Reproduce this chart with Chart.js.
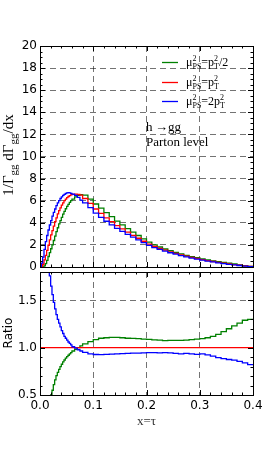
<!DOCTYPE html>
<html>
<head>
<meta charset="utf-8">
<script src="https://cdn.jsdelivr.net/npm/chart.js@4.4.1/dist/chart.umd.min.js"></script>
<style>
  html, body { margin: 0; padding: 0; background: #fff; }
  #arriba { position: absolute; left: 0; top: 0; width: 266px; height: 272px; }
  #abajo { position: absolute; left: 0; top: 270px; width: 266px; height: 195px; }
</style>
</head>
<body>
<div id="arriba"><canvas id="graficoDist"></canvas></div>
<div id="abajo"><canvas id="graficoRatio"></canvas></div>
<script>
// Bordes izquierdos de los bins (el último bin termina en 0.4)
const bordes = [
  0, 0.0025, 0.005, 0.0075, 0.01, 0.0125, 0.015, 0.0175,
  0.02, 0.0225, 0.025, 0.0275, 0.03, 0.0325, 0.035, 0.0375,
  0.04, 0.0425, 0.045, 0.0475, 0.05, 0.0525, 0.055, 0.0575,
  0.06, 0.065, 0.07, 0.075,
  0.08, 0.09, 0.1, 0.11, 0.12, 0.13, 0.14, 0.15,
  0.16, 0.17, 0.18, 0.19, 0.2, 0.21, 0.22, 0.23,
  0.24, 0.25, 0.26, 0.27, 0.28, 0.29, 0.3, 0.31,
  0.32, 0.33, 0.34, 0.35, 0.36, 0.37, 0.38, 0.39,
];
const xFin = 0.4;

// 1/Gamma dGamma/dx para cada escala
const distMitad = [
  0, 0, 0.02, 0.1, 0.3, 0.6, 0.95, 1.3,
  1.65, 2.0, 2.4, 2.8, 3.2, 3.55, 3.9, 4.2,
  4.5, 4.78, 5.03, 5.27, 5.48, 5.67, 5.85, 6.0,
  6.15, 6.35, 6.48, 6.55,
  6.5, 6.15, 5.7, 5.33, 4.92, 4.55, 4.15, 3.81,
  3.47, 3.15, 2.85, 2.54, 2.25, 2.01, 1.81, 1.63,
  1.48, 1.32, 1.19, 1.06, 0.94, 0.84, 0.73, 0.64,
  0.56, 0.48, 0.41, 0.34, 0.27, 0.2, 0.13, 0.065,
];
const distUno = [
  0, 0.05, 0.25, 0.65, 1.05, 1.5, 1.97, 2.45,
  2.9, 3.3, 3.7, 4.1, 4.45, 4.8, 5.1, 5.35,
  5.6, 5.8, 6.0, 6.15, 6.28, 6.38, 6.46, 6.52,
  6.57, 6.6, 6.58, 6.5,
  6.2, 5.75, 5.25, 4.85, 4.45, 4.1, 3.75, 3.45,
  3.15, 2.87, 2.6, 2.33, 2.07, 1.86, 1.68, 1.52,
  1.37, 1.23, 1.1, 0.98, 0.87, 0.77, 0.67, 0.58,
  0.5, 0.42, 0.35, 0.28, 0.22, 0.16, 0.1, 0.05,
];
const distDoble = [
  0.05, 0.35, 0.9, 1.6, 2.3, 2.85, 3.35, 3.8,
  4.2, 4.6, 4.95, 5.25, 5.55, 5.8, 6.0, 6.2,
  6.35, 6.48, 6.58, 6.65, 6.7, 6.72, 6.71, 6.67,
  6.6, 6.48, 6.3, 6.05,
  5.8, 5.38, 4.88, 4.5, 4.14, 3.82, 3.5, 3.23,
  2.96, 2.7, 2.45, 2.2, 1.96, 1.76, 1.59, 1.44,
  1.29, 1.16, 1.03, 0.92, 0.81, 0.72, 0.63, 0.54,
  0.455, 0.375, 0.31, 0.245, 0.19, 0.137, 0.084, 0.041,
];

// Cocientes respecto a mu^2 = pT^2
const ratioMitad = [
  0, 0.05, 0.1, 0.17, 0.25, 0.33, 0.4, 0.45,
  0.5, 0.55, 0.61, 0.66, 0.705, 0.74, 0.77, 0.8,
  0.825, 0.85, 0.87, 0.89, 0.905, 0.92, 0.935, 0.948,
  0.965, 0.982, 1.0, 1.02,
  1.04, 1.065, 1.085, 1.1, 1.105, 1.11, 1.108, 1.105,
  1.1, 1.098, 1.095, 1.09, 1.087, 1.083, 1.08, 1.075,
  1.078, 1.077, 1.078, 1.08, 1.085, 1.09, 1.095, 1.105,
  1.12, 1.14, 1.17, 1.2, 1.23, 1.26, 1.29, 1.3,
];
const ratioUno = [
  1, 1, 1, 1, 1, 1, 1, 1, 1, 1, 1, 1, 1, 1, 1, 1, 1, 1, 1, 1,
  1, 1, 1, 1, 1, 1, 1, 1, 1, 1, 1, 1, 1, 1, 1, 1, 1, 1, 1, 1,
  1, 1, 1, 1, 1, 1, 1, 1, 1, 1, 1, 1, 1, 1, 1, 1, 1, 1, 1, 1,
];
const ratioDoble = [
  8, 5, 3.6, 2.9, 2.4, 2.1, 1.9, 1.76,
  1.65, 1.56, 1.48, 1.41, 1.35, 1.3, 1.26, 1.22,
  1.18, 1.15, 1.12, 1.1, 1.08, 1.06, 1.045, 1.03,
  1.01, 0.995, 0.978, 0.965,
  0.95, 0.935, 0.928, 0.927, 0.93, 0.932, 0.935, 0.937,
  0.94, 0.942, 0.943, 0.945, 0.947, 0.948, 0.945, 0.947,
  0.945, 0.94, 0.935, 0.94, 0.935, 0.93, 0.935, 0.925,
  0.91, 0.895, 0.885, 0.875, 0.868, 0.855, 0.84, 0.82,
];

const xTicks = [0, 0.1, 0.2, 0.3, 0.4];

const VERDE = "#008000";
const ROJO = "#ff0000";
const AZUL = "#0000ff";
const SANS = "'DejaVu Sans', sans-serif";
const SERIF = "'Liberation Serif', serif";

// Convertir un array de valores en puntos de histograma escalonado
function histograma(valores) {
  const puntos = bordes.map((x, i) => ({ x: x, y: valores[i] }));
  puntos.push({ x: xFin, y: valores[valores.length - 1] });
  return puntos;
}

function serie(valores, color, orden) {
  return {
    data: histograma(valores),
    borderColor: color,
    borderWidth: 1.3,
    pointRadius: 0,
    stepped: "before",
    fill: false,
    order: orden,
  };
}

// Quitar el relleno automático que Chart.js reserva para las etiquetas
function sinRelleno(s) {
  s.paddingTop = 0;
  s.paddingBottom = 0;
  s.paddingLeft = 0;
  s.paddingRight = 0;
}

// Texto tipo "mathtext": partes normales o {sup, sub}
function textoMate(ctx, partes, x, y, tam, soloMedir) {
  let cx = x;
  partes.forEach((p) => {
    if (typeof p === "string") {
      ctx.font = tam + "px " + SERIF;
      if (!soloMedir) ctx.fillText(p, cx, y);
      cx += ctx.measureText(p).width;
    } else {
      const t2 = Math.round(tam * 0.7);
      ctx.font = t2 + "px " + SERIF;
      let w = 0;
      if (p.sup) {
        if (!soloMedir) ctx.fillText(p.sup, cx, y - tam * 0.42);
        w = Math.max(w, ctx.measureText(p.sup).width);
      }
      if (p.sub) {
        if (!soloMedir) ctx.fillText(p.sub, cx, y + tam * 0.25);
        w = Math.max(w, ctx.measureText(p.sub).width);
      }
      cx += w;
    }
  });
  return cx - x;
}

// Marco negro y marcas hacia dentro (mayores y menores)
function marcoYMarcas(chart, pasoX, pasoY) {
  const { ctx, chartArea: a, scales } = chart;
  const sx = scales.x;
  const sy = scales.y;
  ctx.save();
  ctx.strokeStyle = "#000";
  ctx.lineWidth = 1;
  ctx.setLineDash([]);
  ctx.beginPath();
  for (let v = sx.min, k = 0; v <= sx.max + 1e-9; v = sx.min + (++k) * pasoX[1]) {
    const px = Math.round(sx.getPixelForValue(v)) + 0.5;
    const mayor = k % Math.round(pasoX[0] / pasoX[1]) === 0;
    const l = mayor ? 5 : 2.5;
    ctx.moveTo(px, a.bottom); ctx.lineTo(px, a.bottom - l);
    ctx.moveTo(px, a.top); ctx.lineTo(px, a.top + l);
  }
  const kMin = Math.ceil(sy.min / pasoY[1] - 1e-9);
  for (let k = kMin; k * pasoY[1] <= sy.max + 1e-9; k++) {
    const v = k * pasoY[1];
    const py = Math.round(sy.getPixelForValue(v)) + 0.5;
    const mayor = Math.abs(v / pasoY[0] - Math.round(v / pasoY[0])) < 1e-6;
    const l = mayor ? 5 : 2.5;
    ctx.moveTo(a.left, py); ctx.lineTo(a.left + l, py);
    ctx.moveTo(a.right, py); ctx.lineTo(a.right - l, py);
  }
  ctx.stroke();
  ctx.strokeRect(Math.round(a.left) + 0.5, Math.round(a.top) + 0.5,
    Math.round(a.right - a.left), Math.round(a.bottom - a.top));
  ctx.restore();
}

function colorRejilla(ctx, extremos) {
  return extremos.includes(ctx.tick.value) ? "rgba(0,0,0,0)" : "rgba(0,0,0,0.55)";
}

// Panel superior: distribuciones
const ctxDist = document.getElementById("graficoDist").getContext("2d");
new Chart(ctxDist, {
  type: "line",
  data: {
    datasets: [
      serie(distDoble, AZUL, 0),
      serie(distUno, ROJO, 1),
      serie(distMitad, VERDE, 2),
    ],
  },
  options: {
    responsive: true,
    maintainAspectRatio: false,
    animation: false,
    layout: { padding: { left: 0, right: 13, top: 46, bottom: 5 } },
    plugins: { legend: { display: false }, tooltip: { enabled: false } },
    scales: {
      x: {
        type: "linear",
        min: 0,
        max: 0.4,
        afterBuildTicks: (s) => { s.ticks = xTicks.map((v) => ({ value: v })); },
        afterFit: (s) => { s.height = 0; sinRelleno(s); },
        ticks: { display: false },
        grid: { drawTicks: false, color: (c) => colorRejilla(c, [0, 0.4]) },
        border: { display: false, dash: [6, 4] },
      },
      y: {
        min: 0,
        max: 20,
        afterFit: (s) => { s.width = 40; sinRelleno(s); },
        ticks: { stepSize: 2, color: "#000", padding: 3, font: { family: SANS, size: 12 } },
        grid: { drawTicks: false, color: (c) => colorRejilla(c, [0, 20]) },
        border: { display: false, dash: [6, 4] },
      },
    },
  },
  plugins: [{
    id: "decoradoDist",
    afterDraw(chart) {
      const ctx = chart.ctx;
      marcoYMarcas(chart, [0.1, 0.02], [2, 0.5]);
      ctx.save();
      ctx.fillStyle = "#000";
      ctx.textBaseline = "alphabetic";

      // Leyenda
      const leyenda = [
        [VERDE, 62, ["\u03bc", { sup: "2", sub: "PS" }, "=p", { sup: "2", sub: "T" }, "/2"]],
        [ROJO, 82, ["\u03bc", { sup: "2", sub: "PS" }, "=p", { sup: "2", sub: "T" }]],
        [AZUL, 101, ["\u03bc", { sup: "2", sub: "PS" }, "=2p", { sup: "2", sub: "T" }]],
      ];
      leyenda.forEach(([color, y, partes]) => {
        ctx.strokeStyle = color;
        ctx.lineWidth = 1.3;
        ctx.beginPath();
        ctx.moveTo(162, y + 0.5);
        ctx.lineTo(178, y + 0.5);
        ctx.stroke();
        textoMate(ctx, partes, 186, y + 4, 12);
      });

      // Textos del proceso
      ctx.font = "13px " + SERIF;
      ctx.fillText("h\u2009\u2192gg", 146, 131);
      ctx.fillText("Parton level", 146, 146);

      // Título del eje Y
      const etiqueta = ["1/\u0393", { sub: "gg" }, " d\u0393", { sub: "gg" }, "/dx"];
      ctx.translate(13, 155);
      ctx.rotate(-Math.PI / 2);
      const w = textoMate(ctx, etiqueta, 0, 0, 15, true);
      textoMate(ctx, etiqueta, -w / 2, 0, 15);
      ctx.restore();
    },
  }],
});

// Panel inferior: cocientes
const ctxRatio = document.getElementById("graficoRatio").getContext("2d");
new Chart(ctxRatio, {
  type: "line",
  data: {
    datasets: [
      serie(ratioDoble, AZUL, 0),
      serie(ratioUno, ROJO, 1),
      serie(ratioMitad, VERDE, 2),
    ],
  },
  options: {
    responsive: true,
    maintainAspectRatio: false,
    animation: false,
    layout: { padding: { left: 0, right: 13, top: 2, bottom: 0 } },
    plugins: { legend: { display: false }, tooltip: { enabled: false } },
    scales: {
      x: {
        type: "linear",
        min: 0,
        max: 0.4,
        afterBuildTicks: (s) => { s.ticks = xTicks.map((v) => ({ value: v })); },
        afterFit: (s) => { s.height = 70; sinRelleno(s); },
        ticks: {
          color: "#000",
          padding: 4,
          maxRotation: 0,
          font: { family: SANS, size: 12 },
          callback: (v) => Number(v).toFixed(1),
        },
        grid: { drawTicks: false, color: (c) => colorRejilla(c, [0, 0.4]) },
        border: { display: false, dash: [6, 4] },
      },
      y: {
        min: 0.5,
        max: 1.8,
        afterFit: (s) => { s.width = 40; sinRelleno(s); },
        ticks: {
          stepSize: 0.5,
          includeBounds: false,
          color: "#000",
          padding: 3,
          font: { family: SANS, size: 12 },
          callback: (v) => Number(v).toFixed(1),
        },
        grid: { drawTicks: false, color: (c) => colorRejilla(c, [0.5, 1.8]) },
        border: { display: false, dash: [6, 4] },
      },
    },
  },
  plugins: [{
    id: "decoradoRatio",
    afterDraw(chart) {
      const ctx = chart.ctx;
      const a = chart.chartArea;
      marcoYMarcas(chart, [0.1, 0.02], [0.5, 0.1]);
      ctx.save();
      ctx.textAlign = "center";
      ctx.textBaseline = "middle";
      ctx.font = "13px " + SERIF;
      ctx.fillStyle = "#333";
      ctx.fillText("x=\u03c4", (a.left + a.right) / 2, 152);
      ctx.fillStyle = "#000";
      ctx.font = "12px " + SANS;
      ctx.translate(9, 63);
      ctx.rotate(-Math.PI / 2);
      ctx.fillText("Ratio", 0, 0);
      ctx.restore();
    },
  }],
});
</script>
</body>
</html>
